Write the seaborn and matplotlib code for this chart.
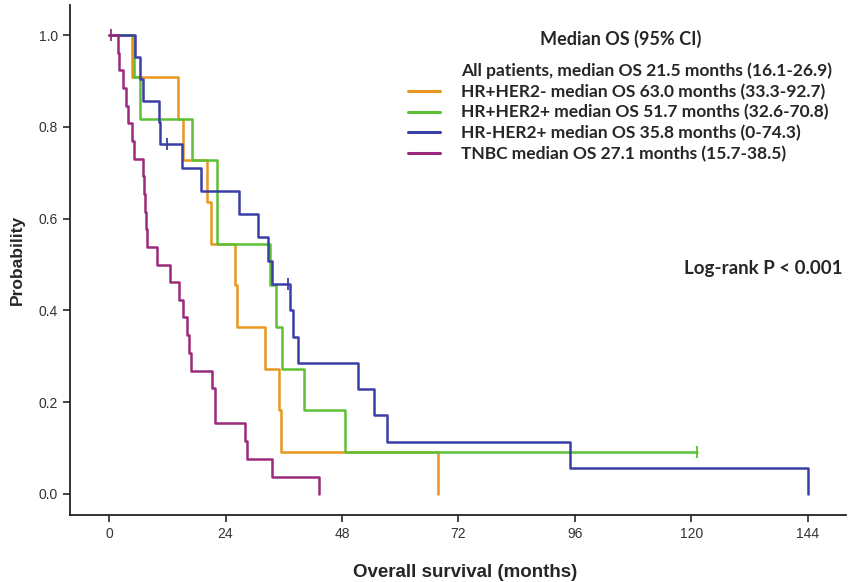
import numpy as np
import pandas as pd
import matplotlib
matplotlib.use('Agg')
import matplotlib.pyplot as plt
from matplotlib.lines import Line2D
import seaborn as sns

# step points of each Kaplan-Meier curve (months, survival)
hrp_her2n_t = [0, 4.7, 14.2, 15.3, 20.2, 21.0, 26.0, 26.4, 32.2, 35.1, 35.5, 67.7]
hrp_her2n_s = [1.0, .909, .818, .727, .636, .545, .455, .364, .273, .182, .091, 0.0]

hrp_her2p_t = [0, 5.2, 6.4, 17.1, 22.3, 33.2, 34.5, 35.7, 40.2, 48.7, 121.1]
hrp_her2p_s = [1.0, .909, .818, .727, .545, .455, .364, .273, .182, .091, .091]

hrn_her2p_t = [0, 5.4, 6.4, 7.0, 10.2, 10.4, 15.0, 19.0, 26.8, 30.7, 32.8, 33.6,
               37.3, 38.0, 39.0, 51.4, 54.5, 57.2, 94.9, 144.0]
hrn_her2p_s = [1.0, .952, .905, .857, .810, .762, .711, .660, .610, .559, .508, .457,
               .400, .343, .286, .229, .171, .114, .057, 0.0]

tnbc_t = [0, 1.8, 2.1, 2.95, 3.5, 4.0, 4.8, 5.2, 7.05, 7.2, 7.5, 7.7, 7.85, 9.9, 12.6,
          14.4, 15.3, 16.1, 16.5, 16.9, 21.3, 21.9, 28.1, 28.5, 33.6, 43.3]
tnbc_s = [1.0, .962, .923, .885, .846, .808, .769, .731, .692, .654, .615, .577, .538,
          .500, .462, .423, .385, .346, .308, .269, .231, .154, .115, .077, .038, 0.0]

# censored observations
cens_t = [11.9, 36.9, 121.1, 0.4]
cens_s = [.762, .457, .091, 1.0]
cens_g = ['HR-HER2+', 'HR-HER2+', 'HR+HER2+', 'TNBC']

groups = ['HR+HER2-', 'HR+HER2+', 'HR-HER2+', 'TNBC']
labels = ['HR+HER2- median OS 63.0 months (33.3-92.7)',
          'HR+HER2+ median OS 51.7 months (32.6-70.8)',
          'HR-HER2+ median OS 35.8 months (0-74.3)',
          'TNBC median OS 27.1 months (15.7-38.5)']
palette = {'HR+HER2-': '#E8961E', 'HR+HER2+': '#5CC035',
           'HR-HER2+': '#3A3FA8', 'TNBC': '#9B2A7C'}

frames = []
for g, t, s in zip(groups, [hrp_her2n_t, hrp_her2p_t, hrn_her2p_t, tnbc_t],
                   [hrp_her2n_s, hrp_her2p_s, hrn_her2p_s, tnbc_s]):
    frames.append(pd.DataFrame({'time': t, 'surv': s, 'group': g}))
df = pd.concat(frames, ignore_index=True)
cens = pd.DataFrame({'time': cens_t, 'surv': cens_s, 'group': cens_g})

sns.set_style('ticks')
plt.rcParams['font.family'] = ['Liberation Sans', 'DejaVu Sans']

fig = plt.figure(figsize=(8.59, 5.82), dpi=100)
ax = fig.add_axes([0.0815, 0.115, 0.903, 0.876])

sns.lineplot(data=df, x='time', y='surv', hue='group', palette=palette,
             drawstyle='steps-post', estimator=None, sort=False, linewidth=1.8,
             legend=False, ax=ax)
for _, r in cens.iterrows():
    ax.plot(r['time'], r['surv'], marker='|', markersize=9, markeredgewidth=1.3,
            color=palette[r['group']], linestyle='none')

ax.set_xlim(-8.05, 151.8)
ax.set_ylim(-0.046, 1.065)
ax.set_xticks([0, 24, 48, 72, 96, 120, 144])
ax.set_yticks([0.0, 0.2, 0.4, 0.6, 0.8, 1.0])
ax.set_yticklabels(['0.0', '0.2', '0.4', '0.6', '0.8', '1.0'])
ax.tick_params(labelsize=10, labelcolor='#333333', length=5, width=1.2, direction='out')
sns.despine(ax=ax)
for sp in ['left', 'bottom']:
    ax.spines[sp].set_linewidth(1.3)
    ax.spines[sp].set_color('#222222')

ax.set_xlabel('Overall survival (months)', fontsize=13.5, fontweight='bold')
ax.xaxis.set_label_coords(0.51, -0.095, transform=ax.transAxes)
ax.xaxis.label.set_va('top')
ax.set_ylabel('Probability', fontsize=12.5, fontweight='bold', labelpad=10)

handles = [Line2D([], [], color='none')]
handles += [Line2D([], [], color=palette[g], linewidth=2.2) for g in groups]
leg_labels = ['All patients, median OS 21.5 months (16.1-26.9)'] + labels
leg = ax.legend(handles, leg_labels, title='Median OS (95% CI)', frameon=False,
                loc='upper left', bbox_to_anchor=(0.416, 0.983), handlelength=1.85,
                handletextpad=1.2, labelspacing=0.25,
                prop={'family': ['Lato', 'DejaVu Sans'], 'weight': 'bold', 'size': 12.5},
                title_fontproperties={'family': ['Lato', 'DejaVu Sans'],
                                      'weight': 'bold', 'size': 13})
leg._legend_box.sep = 11

ax.text(0.792, 0.484, 'Log-rank P < 0.001', transform=ax.transAxes,
        fontsize=13.5, fontweight='bold', family=['Lato', 'DejaVu Sans'],
        ha='left', va='center')

fig.savefig('out.png', dpi=100)
